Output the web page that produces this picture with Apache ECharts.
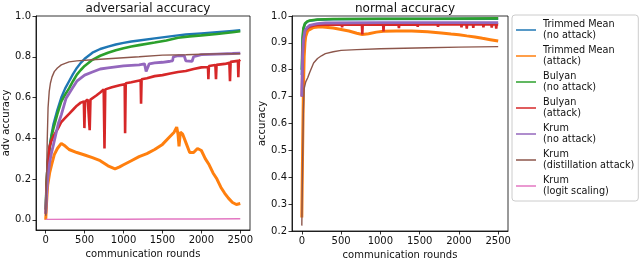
<!DOCTYPE html>
<html><head><meta charset="utf-8">
<script src="https://cdn.jsdelivr.net/npm/echarts@6/dist/echarts.min.js"></script>
<style>html,body{margin:0;padding:0;background:#fff}#c{width:640px;height:259px}</style>
</head><body><div id="c"></div>
<script>
// ---- data (communication round, accuracy) ----
const seriesNames = ['Trimmed Mean\n(no attack)','Trimmed Mean\n(attack)','Bulyan\n(no attack)','Bulyan\n(attack)','Krum\n(no attack)','Krum\n(distillation attack)','Krum\n(logit scaling)'];
const xTicks = [0,500,1000,1500,2000,2500];
const advTicks = [0,0.2,0.4,0.6,0.8,1.0];
const normTicks = [0.2,0.3,0.4,0.5,0.6,0.7,0.8,0.9,1.0];

// adversarial accuracy
const advTrimmedNo = [[0,0.05],[10,0.18],[25,0.28],[50,0.36],[75,0.42],[100,0.47],[150,0.54],[200,0.6],[250,0.645],[300,0.68],[350,0.715],[400,0.745],[450,0.77],[500,0.79],[600,0.82],[700,0.838],[800,0.85],[900,0.86],[1000,0.868],[1100,0.875],[1200,0.88],[1400,0.89],[1600,0.9],[1700,0.905],[1800,0.909],[2000,0.915],[2200,0.921],[2400,0.927],[2500,0.93]];
const advTrimmedAtk = [[0,0.0],[10,0.08],[25,0.17],[50,0.23],[75,0.27],[110,0.32],[150,0.35],[200,0.375],[250,0.362],[300,0.345],[400,0.33],[500,0.318],[600,0.305],[700,0.29],[800,0.265],[890,0.25],[950,0.26],[1000,0.27],[1100,0.29],[1200,0.31],[1300,0.325],[1400,0.345],[1500,0.37],[1600,0.41],[1650,0.43],[1683,0.455],[1700,0.42],[1713,0.36],[1730,0.43],[1760,0.42],[1800,0.38],[1850,0.33],[1900,0.33],[1950,0.35],[2000,0.34],[2050,0.3],[2100,0.27],[2150,0.23],[2200,0.2],[2250,0.16],[2300,0.13],[2350,0.105],[2400,0.085],[2450,0.075],[2500,0.08]];
const advBulyanNo = [[0,0.05],[10,0.17],[25,0.27],[50,0.35],[75,0.41],[100,0.45],[150,0.52],[200,0.58],[250,0.615],[300,0.645],[350,0.68],[400,0.712],[450,0.735],[500,0.755],[600,0.785],[700,0.805],[800,0.82],[900,0.832],[1000,0.842],[1100,0.85],[1200,0.857],[1400,0.87],[1550,0.88],[1700,0.893],[1850,0.9],[2000,0.905],[2200,0.912],[2400,0.92],[2500,0.925]];
const advBulyanAtk = [[0,0.03],[10,0.15],[25,0.28],[50,0.36],[75,0.39],[100,0.41],[130,0.43],[160,0.45],[200,0.48],[250,0.5],[300,0.52],[350,0.54],[400,0.56],[450,0.575],[490,0.58],[497,0.45],[505,0.58],[540,0.59],[565,0.44],[575,0.59],[650,0.61],[700,0.625],[745,0.64],[755,0.35],[765,0.64],[850,0.65],[950,0.66],[1015,0.665],[1020,0.425],[1028,0.67],[1100,0.675],[1220,0.685],[1225,0.57],[1232,0.69],[1300,0.695],[1400,0.705],[1500,0.71],[1600,0.718],[1700,0.725],[1800,0.73],[1900,0.74],[2000,0.748],[2085,0.75],[2090,0.69],[2097,0.755],[2180,0.76],[2188,0.69],[2195,0.76],[2300,0.765],[2360,0.77],[2368,0.68],[2376,0.775],[2470,0.78],[2475,0.70],[2482,0.78],[2500,0.785]];
const advKrumNo = [[0,0.03],[10,0.12],[25,0.2],[50,0.28],[75,0.33],[100,0.37],[130,0.42],[160,0.47],[200,0.515],[260,0.595],[300,0.62],[350,0.65],[400,0.68],[450,0.695],[500,0.71],[600,0.725],[700,0.74],[800,0.745],[900,0.75],[1000,0.755],[1100,0.758],[1200,0.76],[1270,0.765],[1290,0.728],[1310,0.73],[1330,0.765],[1400,0.77],[1500,0.773],[1600,0.778],[1630,0.78],[1640,0.8],[1700,0.805],[1780,0.805],[1800,0.78],[1880,0.777],[1900,0.8],[2000,0.81],[2200,0.813],[2400,0.816],[2500,0.818]];
const advKrumDist = [[0,0.02],[10,0.2],[20,0.4],[30,0.55],[45,0.63],[60,0.67],[80,0.7],[110,0.727],[150,0.745],[200,0.76],[300,0.775],[400,0.78],[600,0.785],[800,0.79],[1000,0.795],[1200,0.8],[1500,0.808],[1800,0.81],[2000,0.812],[2200,0.814],[2500,0.815]];
const advKrumLogit = [[0,0.002],[500,0.003],[1000,0.003],[1500,0.004],[2000,0.004],[2500,0.005]];

// normal accuracy
const normTrimmedNo = [[0,0.78],[10,0.91],[20,0.95],[40,0.97],[70,0.979],[100,0.982],[200,0.986],[400,0.988],[1000,0.989],[2500,0.99]];
const normTrimmedAtk = [[0,0.25],[10,0.5],[20,0.72],[30,0.85],[40,0.9],[50,0.925],[75,0.945],[100,0.952],[150,0.957],[234,0.96],[300,0.958],[400,0.955],[500,0.95],[600,0.944],[700,0.936],[770,0.931],[850,0.934],[950,0.94],[1040,0.943],[1200,0.944],[1400,0.944],[1600,0.941],[1776,0.937],[1900,0.933],[2000,0.93],[2100,0.926],[2204,0.922],[2300,0.917],[2400,0.912],[2500,0.907]];
const normBulyanNo = [[0,0.8],[10,0.92],[20,0.955],[40,0.972],[70,0.98],[100,0.983],[200,0.987],[400,0.989],[1000,0.99],[1700,0.99],[1712,0.984],[1724,0.99],[2500,0.991]];
const normBulyanAtk = [[0,0.7],[10,0.85],[20,0.91],[40,0.945],[70,0.955],[100,0.96],[150,0.965],[200,0.967],[300,0.968],[508,0.968],[513,0.958],[518,0.968],[765,0.968],[770,0.931],[775,0.968],[1035,0.968],[1040,0.943],[1045,0.968],[1231,0.968],[1236,0.955],[1241,0.968],[1471,0.969],[1476,0.96],[1481,0.969],[1729,0.969],[1734,0.96],[1739,0.969],[1857,0.969],[1862,0.962],[1867,0.969],[2028,0.969],[2033,0.958],[2038,0.969],[2095,0.969],[2100,0.953],[2105,0.969],[2178,0.969],[2183,0.956],[2188,0.969],[2307,0.969],[2312,0.958],[2317,0.969],[2413,0.969],[2418,0.957],[2423,0.969],[2470,0.969],[2475,0.953],[2480,0.969],[2500,0.969]];
const normKrumNo = [[0,0.7],[10,0.85],[20,0.91],[40,0.945],[70,0.958],[100,0.965],[200,0.972],[300,0.974],[1000,0.975],[2500,0.975]];
const normKrumDist = [[0,0.22],[10,0.45],[20,0.65],[30,0.73],[50,0.755],[75,0.77],[100,0.79],[150,0.825],[200,0.842],[250,0.852],[300,0.86],[400,0.867],[500,0.872],[700,0.875],[1000,0.878],[1300,0.88],[1600,0.882],[2000,0.884],[2500,0.886]];

const colors = ['#1f77b4','#ff7f0e','#2ca02c','#d62728','#9467bd','#8c564b','#e377c2'];
const widths = [2.4,3,2.6,2.6,2.8,1.4,1.4];
const advData = [advTrimmedNo,advTrimmedAtk,advBulyanNo,advBulyanAtk,advKrumNo,advKrumDist,advKrumLogit];
const normData = [normTrimmedNo,normTrimmedAtk,normBulyanNo,normBulyanAtk,normKrumNo,normKrumDist,null];

const FONT = 'DejaVu Sans';
const txt = '#111';
function xAxisCfg(gi){
  return {type:'value',gridIndex:gi,min:-125,max:2625,
    name:'communication rounds',nameLocation:'middle',nameGap:17,
    nameTextStyle:{fontFamily:FONT,fontSize:10,color:txt},
    axisLine:{show:true,onZero:false,lineStyle:{color:'#000',width:0.8}},
    axisTick:{show:true,length:3.5,customValues:xTicks,lineStyle:{color:'#000',width:0.8}},
    axisLabel:{customValues:xTicks,margin:5,fontFamily:FONT,fontSize:10,color:txt,formatter:v=>String(v)},
    splitLine:{show:false}};
}
function yAxisCfg(gi,min,ticks,name,gap){
  return {type:'value',gridIndex:gi,min:min,max:1.0,
    name:name,nameLocation:'middle',nameGap:gap,
    nameTextStyle:{fontFamily:FONT,fontSize:10,color:txt},
    axisLine:{show:true,onZero:false,lineStyle:{color:'#000',width:0.8}},
    axisTick:{show:true,length:3.5,customValues:ticks,lineStyle:{color:'#000',width:0.8}},
    axisLabel:{customValues:ticks,margin:5,fontFamily:FONT,fontSize:10,color:txt,formatter:v=>v.toFixed(1)},
    splitLine:{show:false}};
}
const series=[];
advData.forEach((d,i)=>{series.push({name:seriesNames[i],type:'line',xAxisIndex:0,yAxisIndex:0,data:d,showSymbol:false,symbol:'none',color:colors[i],lineStyle:{width:widths[i],color:colors[i]},z:2+i});});
normData.forEach((d,i)=>{if(!d)return;series.push({name:seriesNames[i],type:'line',xAxisIndex:1,yAxisIndex:1,data:d,showSymbol:false,symbol:'none',color:colors[i],lineStyle:{width:widths[i],color:colors[i]},z:2+i});});

const chart = echarts.init(document.getElementById('c'),null,{renderer:'canvas'});
chart.setOption({
  animation:false,
  backgroundColor:'#fff',
  title:[
    {text:'adversarial accuracy',left:143,top:-2,textAlign:'center',textStyle:{fontFamily:FONT,fontSize:12,fontWeight:'normal',color:txt}},
    {text:'normal accuracy',left:400,top:-2,textAlign:'center',textStyle:{fontFamily:FONT,fontSize:12,fontWeight:'normal',color:txt}}
  ],
  grid:[
    {left:36,top:16,width:214,height:214,show:true,borderColor:'#000',borderWidth:0.8,backgroundColor:'transparent',containLabel:false,outerBoundsMode:'none'},
    {left:292,top:16,width:216,height:215,show:true,borderColor:'#000',borderWidth:0.8,backgroundColor:'transparent',containLabel:false,outerBoundsMode:'none'}
  ],
  xAxis:[xAxisCfg(0),xAxisCfg(1)],
  yAxis:[yAxisCfg(0,-0.05,advTicks,'adv accuracy',24),yAxisCfg(1,0.2,normTicks,'accuracy',24)],
  legend:{orient:'vertical',left:512,top:15,data:seriesNames,icon:'rect',itemWidth:20,itemHeight:1.5,itemGap:4,
    padding:[4,4,4,4],backgroundColor:'#fff',borderColor:'#ccc',borderWidth:1,borderRadius:3,
    textStyle:{fontFamily:FONT,fontSize:9.7,lineHeight:11,color:txt,padding:[0,0,0,2]}},
  series:series
});
</script></body></html>
